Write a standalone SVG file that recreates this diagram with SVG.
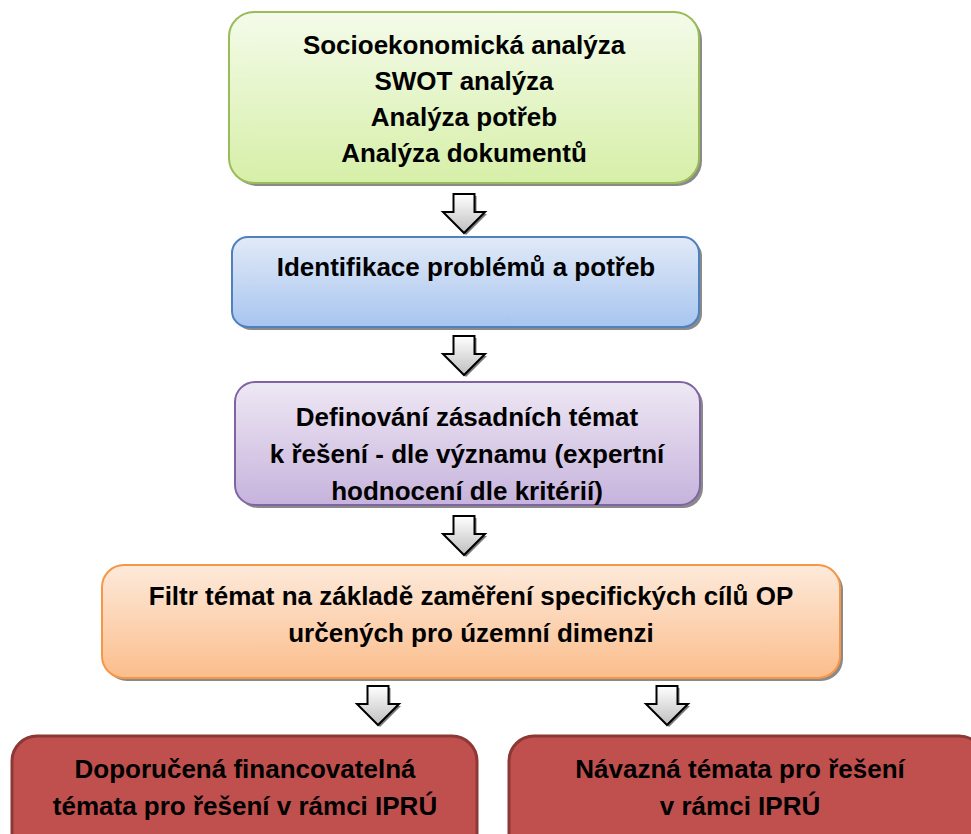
<svg xmlns="http://www.w3.org/2000/svg" width="971" height="834" viewBox="0 0 971 834">
<defs>
<linearGradient id="gGreen" x1="0" y1="0" x2="0" y2="1"><stop offset="0" stop-color="#f4fbea"/><stop offset="1" stop-color="#d6efa8"/></linearGradient>
<linearGradient id="gBlue" x1="0" y1="0" x2="0" y2="1"><stop offset="0" stop-color="#e1eaf7"/><stop offset="1" stop-color="#a8c5f0"/></linearGradient>
<linearGradient id="gPurple" x1="0" y1="0" x2="0" y2="1"><stop offset="0" stop-color="#eee8f4"/><stop offset="1" stop-color="#c6b3dc"/></linearGradient>
<linearGradient id="gOrange" x1="0" y1="0" x2="0" y2="1"><stop offset="0" stop-color="#fdeadb"/><stop offset="1" stop-color="#fbbd8b"/></linearGradient>
<linearGradient id="gArrow" x1="0" y1="0" x2="0" y2="1"><stop offset="0" stop-color="#ffffff"/><stop offset="1" stop-color="#bfbfbf"/></linearGradient>
<path id="arrow" d="M-10.5,0 H10.5 V18 H21 L0,39 L-21,18 H-10.5 Z"/>
</defs>
<style>
.txt{font-family:"Liberation Sans",Arial,sans-serif;font-weight:bold;font-size:26px;fill:#000;text-anchor:middle}
.shadow{fill:#8a8a8a}
.box{stroke-width:2}
.red{fill:#c0504d;stroke:#8c3836;stroke-width:3}
.arr{fill:url(#gArrow);stroke:#000;stroke-width:2;stroke-linejoin:miter}
.arrsh{fill:#7a7a7a}
</style>
<rect width="971" height="834" fill="#fff"/>

<g id="connectors">
  <use href="#arrow" class="arrsh" x="466" y="196"/>
  <use href="#arrow" class="arr" x="464" y="194"/>
  <use href="#arrow" class="arrsh" x="466" y="338"/>
  <use href="#arrow" class="arr" x="464" y="336"/>
  <use href="#arrow" class="arrsh" x="466" y="518"/>
  <use href="#arrow" class="arr" x="464" y="516"/>
  <use href="#arrow" class="arrsh" x="380" y="688"/>
  <use href="#arrow" class="arr" x="378" y="686"/>
  <use href="#arrow" class="arrsh" x="669" y="688"/>
  <use href="#arrow" class="arr" x="667" y="686"/>
</g>

<g id="node-analyzy">
  <rect class="shadow" x="232" y="15" width="470" height="171" rx="25"/>
  <rect class="box" x="229" y="12" width="470" height="171" rx="25" fill="url(#gGreen)" stroke="#9bbb59"/>
  <text class="txt" x="464" y="54">Socioekonomická analýza</text>
  <text class="txt" x="464" y="90">SWOT analýza</text>
  <text class="txt" x="464" y="126">Analýza potřeb</text>
  <text class="txt" x="464" y="162">Analýza dokumentů</text>
</g>

<g id="node-identifikace">
  <rect class="shadow" x="235" y="240" width="467" height="90" rx="16"/>
  <rect class="box" x="232" y="237" width="467" height="90" rx="16" fill="url(#gBlue)" stroke="#4f81bd"/>
  <text class="txt" x="466" y="276">Identifikace problémů a potřeb</text>
</g>

<g id="node-definovani">
  <rect class="shadow" x="238" y="385" width="465" height="123" rx="20"/>
  <rect class="box" x="235" y="382" width="465" height="123" rx="20" fill="url(#gPurple)" stroke="#8064a2"/>
  <text class="txt" x="467" y="426">Definování zásadních témat</text>
  <text class="txt" x="467" y="463">k řešení - dle významu (expertní</text>
  <text class="txt" x="467" y="500">hodnocení dle kritérií)</text>
</g>

<g id="node-filtr">
  <rect class="shadow" x="105" y="568" width="738" height="113" rx="22"/>
  <rect class="box" x="102" y="565" width="738" height="113" rx="22" fill="url(#gOrange)" stroke="#f79646"/>
  <text class="txt" x="471" y="605">Filtr témat na základě zaměření specifických cílů OP</text>
  <text class="txt" x="471" y="642">určených pro územní dimenzi</text>
</g>

<g id="node-doporucena">
  <rect class="red" x="12" y="736" width="465" height="130" rx="25"/>
  <text class="txt" x="245" y="778">Doporučená financovatelná</text>
  <text class="txt" x="245" y="815">témata pro řešení v rámci IPRÚ</text>
</g>

<g id="node-navazna">
  <rect class="red" x="509" y="736" width="475" height="130" rx="25"/>
  <text class="txt" x="740" y="778">Návazná témata pro řešení</text>
  <text class="txt" x="740" y="815">v rámci IPRÚ</text>
</g>
</svg>
